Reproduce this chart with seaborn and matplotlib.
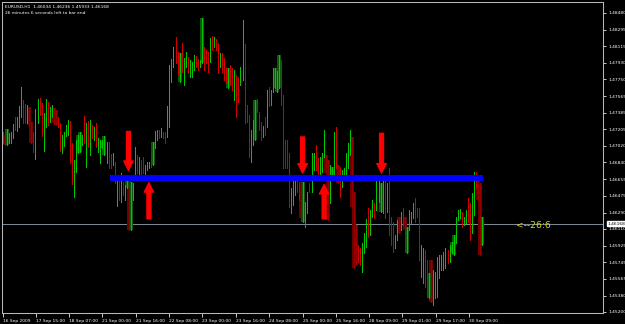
import matplotlib
matplotlib.use("Agg")
import matplotlib.pyplot as plt
from matplotlib import font_manager
from matplotlib.patches import ArrowStyle
import seaborn as sns
import pandas as pd

# ---------------- data ----------------
symbol_line = "EURUSD,H1  1.46034 1.46236 1.45933 1.46168"
timer_line = "26 minutes 6 seconds left to bar end"

highs = [
    1.4717, 1.4714, 1.4721, 1.4716, 1.4717, 1.4726, 1.4734, 1.4734, 1.4746, 1.4767,
    1.4752, 1.4748, 1.4747, 1.4745, 1.4728, 1.4717, 1.4743, 1.4753, 1.4755, 1.4749,
    1.4738, 1.4753, 1.4750, 1.4745, 1.4747, 1.4744, 1.4741, 1.4734, 1.4727, 1.4714,
    1.4717, 1.4725, 1.4730, 1.4729, 1.4705, 1.4687, 1.4709, 1.4714, 1.4717, 1.4714,
    1.4735, 1.4727, 1.4729, 1.4730, 1.4725, 1.4723, 1.4727, 1.4711, 1.4709, 1.4709,
    1.4713, 1.4706, 1.4706, 1.4693, 1.4694, 1.4684, 1.4670, 1.4665, 1.4672,
    1.4662, 1.4659, 1.4670, 1.4668, 1.4662, 1.4661, 1.4701, 1.4692, 1.4690, 1.4687,
    1.4690, 1.4681, 1.4684, 1.4684, 1.4692, 1.4706, 1.4718, 1.4720, 1.4720, 1.4722,
    1.4717, 1.4717, 1.4746, 1.4791, 1.4797, 1.4810, 1.4821, 1.4805, 1.4804, 1.4815,
    1.4798, 1.4805, 1.4800, 1.4796, 1.4794, 1.4802, 1.4801, 1.4797, 1.4796, 1.4842,
    1.4810, 1.4807, 1.4805, 1.4820, 1.4823, 1.4821, 1.4819, 1.4815, 1.4804, 1.4804,
    1.4798, 1.4787, 1.4787, 1.4791, 1.4787, 1.4785, 1.4780, 1.4778, 1.4789, 1.4840,
    1.4814, 1.4747, 1.4736, 1.4720, 1.4730, 1.4752, 1.4753, 1.4739, 1.4728, 1.4724,
    1.4734, 1.4763, 1.4767, 1.4763, 1.4787, 1.4787, 1.4784, 1.4802, 1.4796, 1.4758,
    1.4709, 1.4709, 1.4694, 1.4656, 1.4665, 1.4667, 1.4666, 1.4662, 1.4662, 1.4662,
    1.4641, 1.4652, 1.4661, 1.4694, 1.4694, 1.4703, 1.4689, 1.4690, 1.4694, 1.4720,
    1.4692, 1.4687, 1.4681, 1.4679, 1.4717, 1.4723, 1.4681, 1.4679, 1.4676, 1.4678,
    1.4694, 1.4705, 1.4720, 1.4712, 1.4652, 1.4615, 1.4593,
    1.4590, 1.4596, 1.4607, 1.4622, 1.4634, 1.4632, 1.4643, 1.4640, 1.4665, 1.4668,
    1.4661, 1.4670, 1.4670, 1.4661, 1.4678, 1.4624, 1.4619, 1.4604, 1.4621, 1.4624,
    1.4630, 1.4634, 1.4624, 1.4613, 1.4632, 1.4630, 1.4640, 1.4645, 1.4634, 1.4634,
    1.4593, 1.4590, 1.4588, 1.4577, 1.4563, 1.4577, 1.4566, 1.4564, 1.4580, 1.4583,
    1.4583, 1.4586, 1.4590, 1.4588, 1.4593, 1.4597, 1.4604, 1.4624, 1.4632, 1.4633,
    1.4630, 1.4624, 1.4632, 1.4645, 1.4640, 1.4650, 1.4673, 1.4673, 1.4668, 1.4661,
    1.46236,
]
lows = [
    1.4705, 1.4703, 1.4703, 1.4705, 1.4705, 1.4711, 1.4720, 1.4718, 1.4723, 1.4734,
    1.4727, 1.4727, 1.4727, 1.4725, 1.4705, 1.4695, 1.4688, 1.4727, 1.4736, 1.4713,
    1.4696, 1.4723, 1.4725, 1.4728, 1.4734, 1.4727, 1.4725, 1.4723, 1.4696, 1.4694,
    1.4702, 1.4713, 1.4714, 1.4683, 1.4660, 1.4646, 1.4673, 1.4694, 1.4695, 1.4703,
    1.4705, 1.4679, 1.4701, 1.4692, 1.4711, 1.4709, 1.4701, 1.4695, 1.4683, 1.4700,
    1.4692, 1.4683, 1.4678, 1.4678, 1.4681, 1.4661, 1.4636, 1.4643, 1.4641,
    1.4648, 1.4643, 1.4656, 1.4610, 1.4610, 1.4643, 1.4665, 1.4672, 1.4670, 1.4670,
    1.4672, 1.4668, 1.4676, 1.4678, 1.4679, 1.4681, 1.4700, 1.4709, 1.4711, 1.4712,
    1.4711, 1.4705, 1.4712, 1.4723, 1.4772, 1.4789, 1.4793, 1.4781, 1.4772, 1.4783,
    1.4769, 1.4789, 1.4782, 1.4778, 1.4778, 1.4785, 1.4789, 1.4785, 1.4789, 1.4793,
    1.4785, 1.4793, 1.4783, 1.4794, 1.4807, 1.4810, 1.4807, 1.4782, 1.4789, 1.4783,
    1.4774, 1.4771, 1.4766, 1.4769, 1.4763, 1.4752, 1.4734, 1.4750, 1.4769, 1.4774,
    1.4727, 1.4728, 1.4690, 1.4684, 1.4703, 1.4709, 1.4739, 1.4720, 1.4709, 1.4712,
    1.4714, 1.4723, 1.4746, 1.4747, 1.4761, 1.4766, 1.4761, 1.4766, 1.4747, 1.4678,
    1.4678, 1.4678, 1.4635, 1.4629, 1.4637, 1.4648, 1.4652, 1.4643, 1.4623, 1.4619,
    1.4613, 1.4629, 1.4652, 1.4652, 1.4676, 1.4676, 1.4665, 1.4665, 1.4673, 1.4690,
    1.4672, 1.4621, 1.4640, 1.4665, 1.4665, 1.4678, 1.4661, 1.4646, 1.4657, 1.4665,
    1.4668, 1.4678, 1.4692, 1.4635, 1.4568, 1.4572, 1.4575,
    1.4572, 1.4564, 1.4585, 1.4591, 1.4602, 1.4604, 1.4624, 1.4623, 1.4632, 1.4641,
    1.4630, 1.4629, 1.4623, 1.4630, 1.4604, 1.4593, 1.4586, 1.4590, 1.4599, 1.4607,
    1.4610, 1.4615, 1.4610, 1.4585, 1.4610, 1.4618, 1.4623, 1.4619, 1.4624, 1.4577,
    1.4558, 1.4552, 1.4547, 1.4536, 1.4535, 1.4531, 1.4528, 1.4535, 1.4536, 1.4557,
    1.4566, 1.4566, 1.4568, 1.4574, 1.4575, 1.4585, 1.4583, 1.4596, 1.4621, 1.4623,
    1.4613, 1.4615, 1.4618, 1.4619, 1.4599, 1.4607, 1.4626, 1.4656, 1.4643, 1.4583,
    1.45933,
]
# g = up bar, r = down bar, G / R = bar with dark body
kinds = list(
    "rRGgggrggg" "rrgRRrggrr" "ggrggRRrrg" "gggrrggGGg" "rgrgrgrggG" "Ggrrgrgrg"
    "rgGRGggrgr" "rgggrGggrg" "rrggggrrGr" "ggrgggrrgG" "rrrgrgrrgr" "rrGrrgrrgg"
    "rrrggGrrrg" "rgrggGGGrr" "rrrgggrrRG" "ggrggrrggg" "RRgGgrRrgg" "gggRRRr"
    "rgggrggrgg" "GgrgrrrggR" "grRGgggrrr" "ggrrGRgggg" "gggrgGGggg" "rggrrggrRR"
    "G"
)

time_labels = ["16 Sep 2009", "17 Sep 15:00", "18 Sep 07:00", "21 Sep 00:00",
               "21 Sep 16:00", "22 Sep 08:00", "23 Sep 00:00", "23 Sep 16:00",
               "24 Sep 08:00", "25 Sep 00:00", "25 Sep 16:00", "28 Sep 09:00",
               "29 Sep 01:00", "29 Sep 17:00", "30 Sep 09:00"]
time_ticks = [0, 16.3, 32.5, 48.8, 65.5, 81.8, 98.0, 114.8, 131.1, 147.8,
              164.1, 180.3, 196.6, 213.3, 229.6]
price_ticks = [1.48480, 1.48295, 1.48115, 1.47930, 1.47750, 1.47565, 1.47385,
               1.47205, 1.47020, 1.46840, 1.46655, 1.46475, 1.46290, 1.46110,
               1.45925, 1.45745, 1.45565, 1.45380, 1.45200]
support_level = 1.4667
support_span = (52.7, 236.5)
current_price = 1.46168
countdown = "<--26:6"
countdown_pos = (252.7, 1.46150)
down_arrows = [(61.8, 1.4718, 1.4675), (147.6, 1.4712, 1.4672), (186.5, 1.4716, 1.4672)]
up_arrows = [(71.9, 1.4622, 1.4662), (158.2, 1.4622, 1.4660)]

# ---------------- style ----------------
sns.set_style("dark", {"axes.facecolor": "black", "figure.facecolor": "black"})


def has_font(name):
    try:
        font_manager.findfont(font_manager.FontProperties(family=name),
                              fallback_to_default=False)
        return True
    except Exception:
        return False


if has_font("Liberation Sans Narrow"):
    small_family = ["Liberation Sans Narrow", "DejaVu Sans"]
    small_size = 4.3
else:
    small_family = ["DejaVu Sans"]
    small_size = 3.2
plt.rcParams["font.family"] = small_family
plt.rcParams["lines.solid_capstyle"] = "butt"

W, H = 625, 324
fig = plt.figure(figsize=(W / 100, H / 100), dpi=100, facecolor="black")
ax = fig.add_axes([2 / W, 1 - 313 / H, 601 / W, 311 / H])
ax.set_facecolor("black")

rows = []
for i, (h, l, k) in enumerate(zip(highs, lows, kinds)):
    rows.append({"bar": i, "price": l, "kind": k})
    rows.append({"bar": i, "price": h, "kind": k})
df = pd.DataFrame(rows)

body = df[df["kind"].isin(["G", "R"])]
sns.lineplot(data=body, x="bar", y="price", units="bar", estimator=None,
             hue="kind", palette={"G": "#0a5a0a", "R": "#6e0000"},
             sort=False, linewidth=1.5, legend=False, ax=ax, antialiased=False,
             solid_capstyle="butt")
sns.lineplot(data=df, x="bar", y="price", units="bar", estimator=None,
             hue="kind",
             palette={"g": "#00c800", "G": "#00c800", "r": "#d20000", "R": "#960000"},
             sort=False, linewidth=0.55, legend=False, ax=ax, antialiased=False,
             solid_capstyle="butt")

# current price line
ax.axhline(current_price, color="#7a8896", linewidth=0.75, zorder=1)

# blue support line
ax.hlines(support_level, support_span[0], support_span[1], color="#0000ff",
          linewidth=4.4, zorder=5)

# red arrows
astyle = ArrowStyle.Simple(head_length=7.0, head_width=7.0, tail_width=3.0)
for x, start, end in down_arrows + up_arrows:
    ax.annotate("", xy=(x, end), xytext=(x, start),
                arrowprops=dict(arrowstyle=astyle, mutation_scale=1,
                                color="#ff0000", lw=0.8, shrinkA=0, shrinkB=0,
                                joinstyle="round", capstyle="round"),
                zorder=6)

# countdown text
ax.text(countdown_pos[0], countdown_pos[1], countdown, color="#dede00",
        fontsize=6.6, family="DejaVu Sans", va="center", ha="left", zorder=7)

# axes limits (pixel-aligned)
ax.set_xlim(-0.49, 295.6)
ax.set_ylim(1.45189, 1.48598)

for sp in ax.spines.values():
    sp.set_visible(True)
    sp.set_color("#b8b8b8")
    sp.set_linewidth(0.75)

ax.yaxis.tick_right()
ax.set_yticks(price_ticks)
ax.set_yticklabels([f"{p:.5f}" for p in price_ticks])
ax.tick_params(axis="y", colors="#c8c8c8", labelcolor="white", length=2.5,
               width=0.7, pad=1.2, labelsize=small_size, right=True, left=False)

ax.set_xticks(time_ticks)
ax.set_xticklabels(time_labels)
ax.tick_params(axis="x", colors="#c8c8c8", labelcolor="white", length=3,
               width=0.7, pad=1.2, labelsize=small_size, bottom=True)
for lab in ax.get_xticklabels():
    lab.set_ha("left")
ax.set_xlabel("")
ax.set_ylabel("")
ax.grid(False)

# current price label on the axis
ax.annotate(f"{current_price:.5f}", xy=(1.0, current_price),
            xycoords=("axes fraction", "data"), xytext=(3.2, 0),
            textcoords="offset points", va="center", ha="left",
            fontsize=small_size, color="black", annotation_clip=False,
            bbox=dict(boxstyle="square,pad=0.15", fc="white", ec="white"))

# header texts
fig.text(5 / W, 1 - 8 / H, symbol_line, color="white", fontsize=small_size,
         va="baseline", ha="left")
fig.text(5 / W, 1 - 14 / H, timer_line, color="white", fontsize=small_size,
         va="baseline", ha="left")

fig.savefig("out.png", dpi=100, facecolor="black")
